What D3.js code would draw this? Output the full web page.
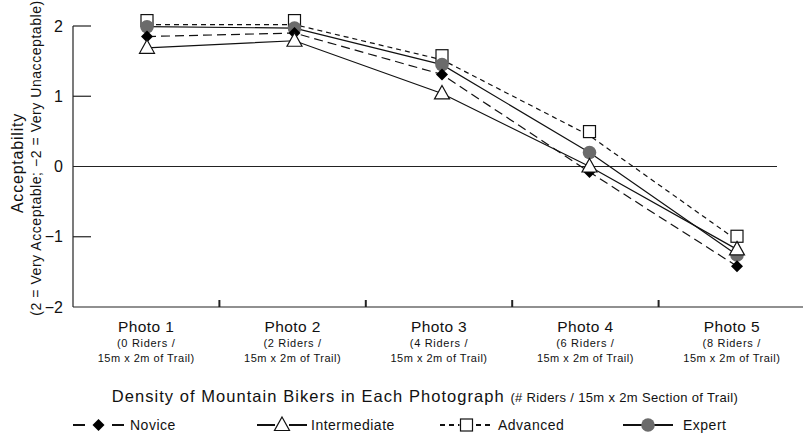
<!DOCTYPE html>
<html>
<head>
<meta charset="utf-8">
<script src="https://cdn.jsdelivr.net/npm/d3@7"></script>
<style>
  body { margin: 0; background: #fff; }
  text { font-family: "Liberation Sans", Arial, sans-serif; fill: #111; }
</style>
</head>
<body>
<svg id="chart" width="803" height="434"></svg>
<script>
// chart data
const photos = ["Photo 1", "Photo 2", "Photo 3", "Photo 4", "Photo 5"];
const riderLines = ["(0 Riders /", "(2 Riders /", "(4 Riders /", "(6 Riders /", "(8 Riders /"];
const areaLine = "15m x 2m of Trail)";
const yTicks = [2, 1, 0, -1, -2];

const novice = [1.85, 1.90, 1.31, -0.08, -1.42];
const intermediate = [1.69, 1.79, 1.04, 0.00, -1.18];
const advanced = [2.02, 2.02, 1.52, 0.44, -1.05];
const expert = [1.99, 1.97, 1.45, 0.20, -1.26];

const series = [
    { name: "Novice", values: novice, dash: "9,5", legendDash: "12,27", marker: "diamond" },
    { name: "Intermediate", values: intermediate, dash: null, legendDash: null, marker: "triangle" },
    { name: "Advanced", values: advanced, dash: "5,4", legendDash: "5,4", marker: "square" },
    { name: "Expert", values: expert, dash: null, legendDash: null, marker: "circle" }
];

const svg = d3.select("#chart");

const plotLeft = 73, plotRight = 805, plotTop = 26, plotBottom = 307;

const y = d3.scaleLinear().domain([-2, 2]).range([plotBottom, plotTop]);
const xBand = d3.scaleBand().domain(photos).range([plotLeft, plotRight]);
const x = d3.scalePoint().domain(photos).range([147, 737]);

// axes lines
svg.append("line")
    .attr("x1", plotLeft).attr("x2", plotLeft)
    .attr("y1", plotTop).attr("y2", plotBottom)
    .attr("stroke", "#222").attr("stroke-width", 1.2);
svg.append("line")
    .attr("x1", plotLeft).attr("x2", 803)
    .attr("y1", plotBottom).attr("y2", plotBottom)
    .attr("stroke", "#222").attr("stroke-width", 1.2);
// zero line
svg.append("line")
    .attr("x1", plotLeft).attr("x2", 777)
    .attr("y1", y(0)).attr("y2", y(0))
    .attr("stroke", "#222").attr("stroke-width", 1.2);

// y ticks (inside) + labels
const yg = svg.append("g");
yg.selectAll("line")
    .data(yTicks.filter(d => d !== -2 && d !== 0))
    .enter().append("line")
    .attr("x1", plotLeft).attr("x2", plotLeft + 18)
    .attr("y1", d => y(d)).attr("y2", d => y(d))
    .attr("stroke", "#222").attr("stroke-width", 1.2);
yg.selectAll("text")
    .data(yTicks)
    .enter().append("text")
    .attr("x", 63)
    .attr("y", d => y(d) + 5.5)
    .attr("text-anchor", "end")
    .style("font-size", "16px")
    .text(d => d < 0 ? "\u2212" + Math.abs(d) : d);

// x ticks at band boundaries
svg.append("g").selectAll("line")
    .data(photos.slice(1))
    .enter().append("line")
    .attr("x1", d => xBand(d)).attr("x2", d => xBand(d))
    .attr("y1", plotBottom).attr("y2", plotBottom - 7)
    .attr("stroke", "#222").attr("stroke-width", 2);

// category labels
const cats = svg.append("g").selectAll("g")
    .data(photos)
    .enter().append("g")
    .attr("transform", d => `translate(${xBand(d) + xBand.bandwidth() / 2},0)`);
cats.append("text")
    .attr("y", 332).attr("text-anchor", "middle")
    .style("font-size", "15.5px").style("letter-spacing", "0.4px")
    .text(d => d);
cats.append("text")
    .attr("y", 347).attr("text-anchor", "middle")
    .style("font-size", "11px").style("letter-spacing", "0.7px")
    .text((d, i) => riderLines[i]);
cats.append("text")
    .attr("y", 362).attr("text-anchor", "middle")
    .style("font-size", "11px").style("letter-spacing", "0.5px")
    .text(areaLine);

// x axis title
const xt = svg.append("text")
    .attr("x", 425).attr("y", 402)
    .attr("text-anchor", "middle");
xt.append("tspan").style("font-size", "16.5px").style("letter-spacing", "1.05px")
    .text("Density of Mountain Bikers in Each Photograph ");
xt.append("tspan").style("font-size", "13px").style("letter-spacing", "0.35px")
    .text("(# Riders / 15m x 2m Section of Trail)");

// y axis title
svg.append("text")
    .attr("transform", "translate(23,163) rotate(-90)")
    .attr("text-anchor", "middle")
    .style("font-size", "16px").style("letter-spacing", "0.8px")
    .text("Acceptability");
svg.append("text")
    .attr("transform", "translate(41,158) rotate(-90)")
    .attr("text-anchor", "middle")
    .style("font-size", "14px").style("letter-spacing", "0.55px")
    .text("(2 = Very Acceptable; \u22122 = Very Unacceptable)");

// markers
function drawMarker(g, type, squareShift) {
    if (type === "diamond") {
        g.append("path").attr("d", "M0,-6L6,0L0,6L-6,0Z").attr("fill", "#000");
    } else if (type === "triangle") {
        g.append("path").attr("d", "M0,-8L7.5,5.5L-7.5,5.5Z")
            .attr("fill", "#fff").attr("stroke", "#111").attr("stroke-width", 1.2);
    } else if (type === "square") {
        g.append("rect").attr("x", -6).attr("y", -6 - squareShift).attr("width", 12).attr("height", 12)
            .attr("fill", "#fff").attr("stroke", "#111").attr("stroke-width", 1.2);
    } else {
        g.append("circle").attr("r", 6.8).attr("fill", "#6b6b6b");
    }
}

const line = d3.line()
    .x((d, i) => x(photos[i]))
    .y(d => y(d));

// lines first, then markers
series.forEach(s => {
    svg.append("path")
        .datum(s.values)
        .attr("d", line)
        .attr("fill", "none")
        .attr("stroke", "#111")
        .attr("stroke-width", 1.2)
        .attr("stroke-dasharray", s.dash);
});
["square", "circle", "diamond", "triangle"].forEach(m => {
    const s = series.find(d => d.marker === m);
    s.values.forEach((v, i) => {
        const g = svg.append("g").attr("transform", `translate(${x(photos[i])},${y(v)})`);
        drawMarker(g, s.marker, 4);
    });
});

// legend
const legendPos = [
    { x1: 73, x2: 124, tx: 130 },
    { x1: 257, x2: 307, tx: 311 },
    { x1: 440, x2: 493, tx: 498 },
    { x1: 623, x2: 673, tx: 683 }
];
series.forEach((s, i) => {
    const p = legendPos[i];
    const ly = 425;
    svg.append("line")
        .attr("x1", p.x1).attr("x2", p.x2)
        .attr("y1", ly).attr("y2", ly)
        .attr("stroke", "#111").attr("stroke-width", 2)
        .attr("stroke-dasharray", s.legendDash);
    const g = svg.append("g").attr("transform", `translate(${(p.x1 + p.x2) / 2},${ly})`);
    if (s.marker !== "circle") {
        g.append("rect").attr("x", -7).attr("y", -7).attr("width", 14).attr("height", 14).attr("fill", "#fff");
    }
    drawMarker(g, s.marker, 0);
    svg.append("text")
        .attr("x", p.tx).attr("y", ly + 5)
        .style("font-size", "14px").style("letter-spacing", "0.5px")
        .text(s.name);
});
</script>
</body>
</html>
